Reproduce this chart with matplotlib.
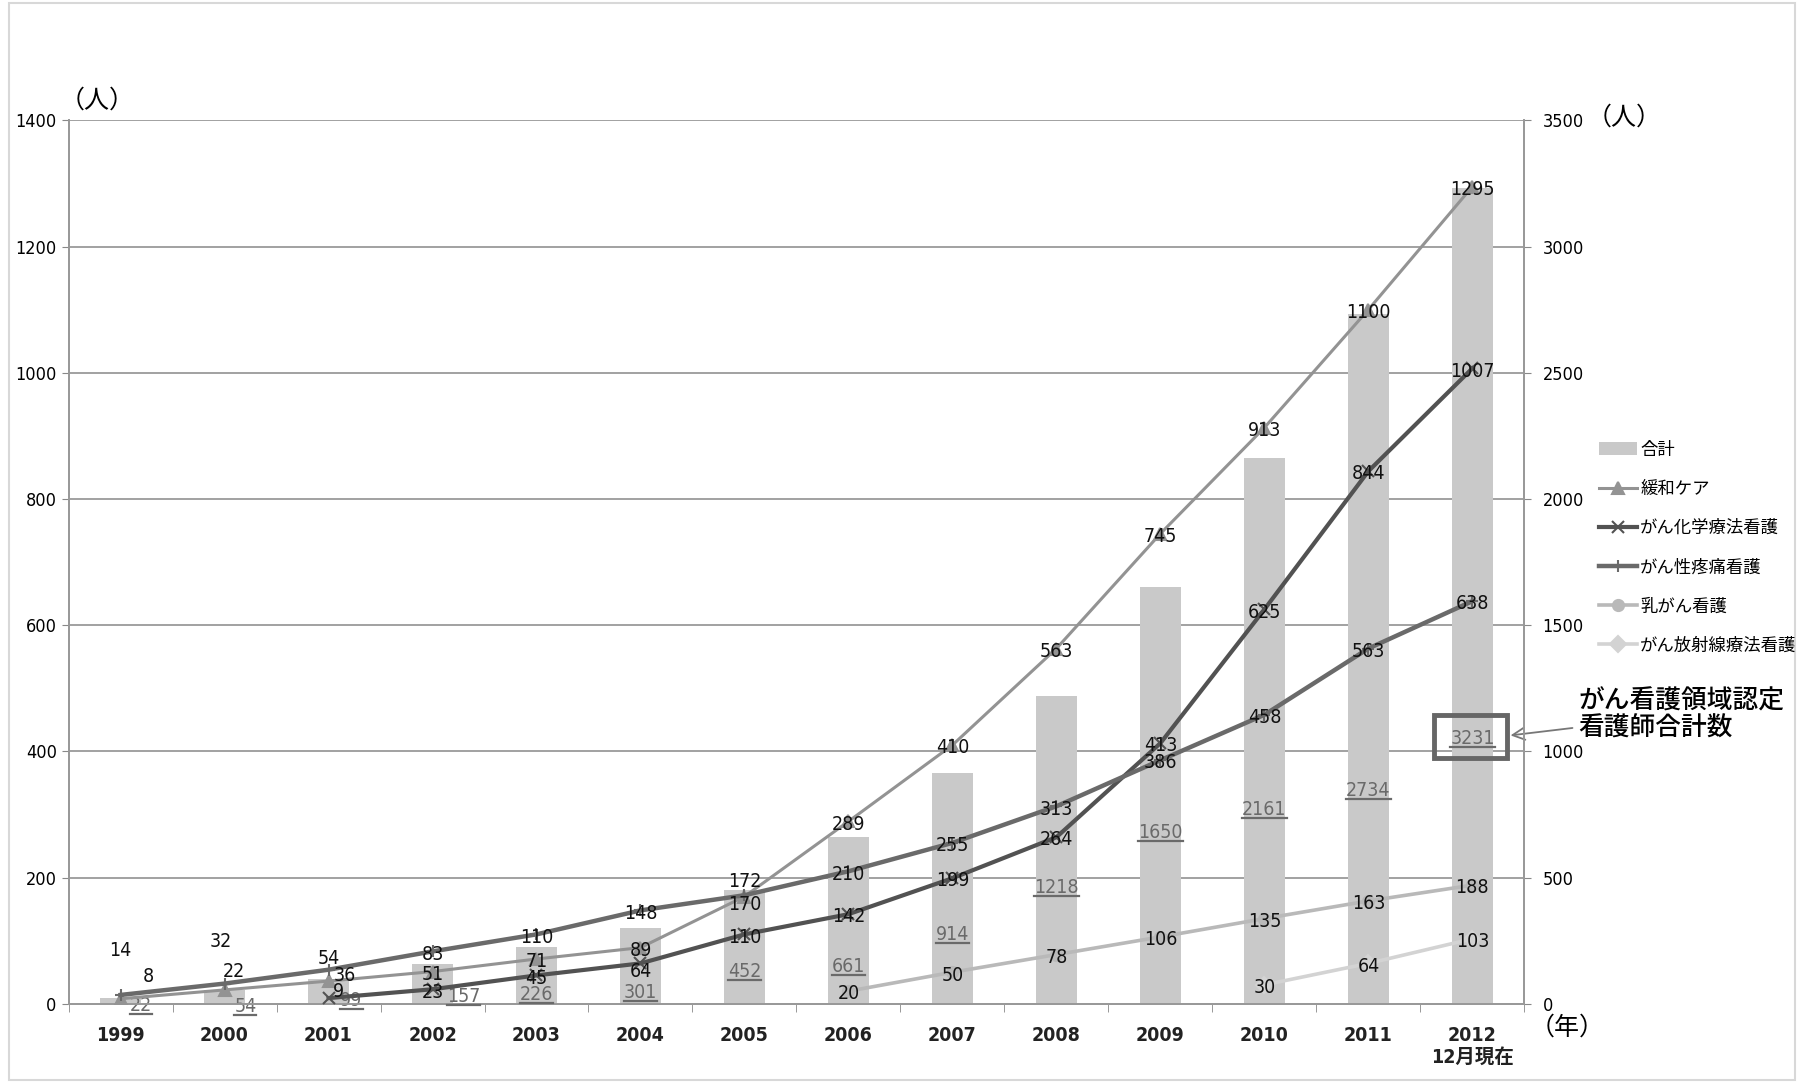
import numpy as np
import matplotlib
matplotlib.use("Agg")
import matplotlib.pyplot as plt
from matplotlib import font_manager as fm
from matplotlib.patches import Rectangle
from matplotlib.lines import Line2D

# a narrow face for the digits if the system has one
have = {f.name for f in fm.fontManager.ttflist}
cond = [f for f in fm.fontManager.ttflist if f.stretch in ("condensed", "semi-condensed")]
if "Liberation Sans Narrow" in have:
    digit_font = "Liberation Sans Narrow"
elif any(f.name == "DejaVu Sans" for f in cond):
    digit_font = "DejaVu Sans"
    plt.rcParams['font.stretch'] = 'condensed'
else:
    digit_font = "Liberation Serif"
plt.rcParams['font.family'] = [digit_font, 'Noto Sans CJK JP', 'DejaVu Sans']
cjk = ['Noto Sans CJK JP', 'DejaVu Sans']

years = ["1999", "2000", "2001", "2002", "2003", "2004", "2005", "2006",
         "2007", "2008", "2009", "2010", "2011", "2012\n12月現在"]

total = [22, 54, 99, 157, 226, 301, 452, 661, 914, 1218, 1650, 2161, 2734, 3231]

kanwa = [8, 22, 36, 51, 71, 89, 170, 289, 410, 563, 745, 913, 1100, 1295]
kagaku = [None, None, 9, 23, 45, 64, 110, 142, 199, 264, 413, 625, 844, 1007]
toutsu = [14, 32, 54, 83, 110, 148, 172, 210, 255, 313, 386, 458, 563, 638]
nyugan = [None, None, None, None, None, None, None, 20, 50, 78, 106, 135, 163, 188]
housha = [None, None, None, None, None, None, None, None, None, None, None, 30, 64, 103]

names = ["緩和ケア", "がん化学療法看護", "がん性疼痛看護", "乳がん看護", "がん放射線療法看護"]

# where the (underlined) total labels sit, right-axis units, and x nudges
total_label_y = [-5, -9, 14, 27, 36, 46, 128, 146, 273, 460, 679, 770, 843, 1052]
total_label_dx = [0.2, 0.2, 0.22, 0.3, 0, 0, 0, 0, 0, 0, 0, 0, 0, 0]

# manual label nudges (points) for crowded early years
nudge = {(0, 0): (20, 16), (0, 1): (7, 13), (0, 2): (12, 4), (0, 6): (0, -6),
         (1, 2): (7, 5), (1, 5): (0, -6),
         (2, 0): (0, 32), (2, 1): (-3, 30), (2, 2): (0, 8), (2, 6): (0, 10)}

x = np.arange(len(years))

fig = plt.figure(figsize=(18.04, 10.84), dpi=100)
ax2 = fig.add_axes([0.038, 0.074, 0.807, 0.815])
ax = ax2.twinx()
ax.yaxis.tick_left()
ax2.yaxis.tick_right()
ax.set_zorder(ax2.get_zorder() + 1)
ax.patch.set_visible(False)

# bars on the right axis
ax2.bar(x, total, width=0.4, color="#c9c9c9", zorder=2, label="合計")
ax2.set_ylim(0, 3500)
ax2.set_yticks(np.arange(0, 3501, 500))
ax2.yaxis.grid(True, color="#9a9a9a", lw=1.3)
ax2.set_axisbelow(True)
total_texts = []
for i, v in enumerate(total):
    t = ax2.text(x[i] + total_label_dx[i], total_label_y[i], str(v),
                 ha="center", va="center", fontsize=14, color="#6a6a6a", zorder=5)
    total_texts.append(t)

# lines on the left axis
series = [kanwa, kagaku, toutsu, nyugan, housha]
colors = ["#939393", "#525252", "#6a6a6a", "#b9b9b9", "#d3d3d3"]
widths = [2.2, 3.0, 3.2, 2.6, 2.6]
markers = ["^", "x", "+", "o", "D"]
handles = []
for k, s in enumerate(series):
    arr = np.array([np.nan if v is None else v for v in s], dtype=float)
    h, = ax.plot(x, arr, color=colors[k], lw=widths[k], marker=markers[k], ms=8,
                 mew=1.5, label=names[k], zorder=3)
    handles.append(h)
    for i, v in enumerate(s):
        if v is None:
            continue
        dx, dy = nudge.get((k, i), (0, -2))
        ax.annotate(str(v), (x[i], v), xytext=(dx, dy), textcoords="offset points",
                    ha="center", va="center", fontsize=14, color="#111111", zorder=6)

ax.set_ylim(0, 1400)
ax.set_yticks(np.arange(0, 1401, 200))
ax2.set_xlim(-0.5, len(years) - 0.5)
ax2.set_xticks(x)
ax2.set_xticklabels(years, fontsize=14, fontweight="bold", color="#222222")
ax2.set_xticks(np.arange(-0.5, len(years), 1.0), minor=True)
ax2.tick_params(axis="x", which="minor", length=6, color="#888888")
ax2.tick_params(axis="x", which="major", length=0, pad=16)
ax.tick_params(axis="y", labelsize=13, length=5, color="#888888")
ax2.tick_params(axis="y", labelsize=13, length=5, color="#888888", pad=8)

for a in (ax, ax2):
    a.spines["top"].set_visible(False)
    for side in ("left", "right", "bottom"):
        a.spines[side].set_color("#999999")
        a.spines[side].set_linewidth(1.3)

# unit labels
fig.text(60 / 1804, 1 - 101 / 1084, "（人）", fontsize=18, va="center", ha="left",
         family=cjk)
fig.text(1587 / 1804, 1 - 118 / 1084, "（人）", fontsize=18, va="center", ha="left",
         family=cjk)
fig.text(1530 / 1804, 1 - 1028 / 1084, "（年）", fontsize=18, va="center", ha="left",
         family=cjk)

# legend
bar_handle = ax2.patches[0]
leg = fig.legend([bar_handle] + handles, ["合計"] + names, loc="upper left",
                 bbox_to_anchor=(1583 / 1804, 1 - 425 / 1084), frameon=False,
                 prop={"family": cjk, "size": 12.5}, handlelength=2.2,
                 handletextpad=0.2, labelspacing=1.22)

# highlight box around the 2012 total
bx = x[-1]
by = total_label_y[-1]
ax2.add_patch(Rectangle((bx - 0.37, by - 78), 0.7, 170, fill=False,
                        ec="#666666", lw=3.5, zorder=6, clip_on=False))
ax2.annotate("がん看護領域認定\n看護師合計数", xy=(bx + 0.34, by + 10),
             xytext=(1578 / 1804, 1 - 715 / 1084), textcoords="figure fraction",
             ha="left", va="center", fontsize=18.5, fontweight="medium",
             family=cjk, linespacing=1.0,
             arrowprops=dict(arrowstyle="->", color="#777777", lw=1.3,
                             mutation_scale=22))

# faint scan frame
fig.patches.append(Rectangle((0.005, 0.004), 0.99, 0.993, transform=fig.transFigure,
                             fill=False, ec="#d8d8d8", lw=1.5))

# underline the total labels
fig.canvas.draw()
renderer = fig.canvas.get_renderer()
inv = fig.transFigure.inverted()
for t in total_texts:
    bb = t.get_window_extent(renderer)
    (x0, y0), (x1, _) = inv.transform([(bb.x0, bb.y0 + 1), (bb.x1, bb.y0 + 1)])
    fig.lines.append(Line2D([x0, x1], [y0, y0], transform=fig.transFigure,
                            color="#6a6a6a", lw=1.6))

fig.savefig("out.png", dpi=100)
